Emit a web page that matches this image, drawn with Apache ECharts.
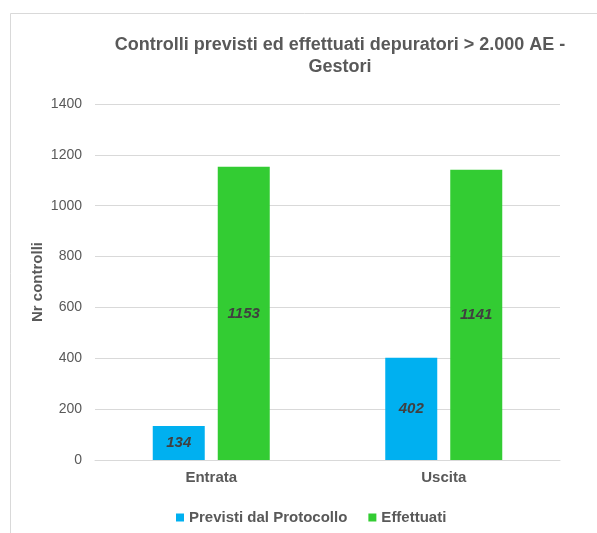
<!DOCTYPE html>
<html>
<head>
<meta charset="utf-8">
<script src="https://cdn.jsdelivr.net/npm/echarts@6/dist/echarts.min.js"></script>
<style>
html,body{margin:0;padding:0;background:#fff;}
#chart{width:597px;height:533px;}
</style>
</head>
<body>
<div id="chart"></div>
<script>
const titleText = "Controlli previsti ed effettuati depuratori > 2.000 AE -\nGestori";
const categories = ["Entrata", "Uscita"];
const seriesNames = ["Previsti dal Protocollo", "Effettuati"];
const previsti = [134, 402];
const effettuati = [1153, 1141];
const yAxisName = "Nr controlli";

const FONT = '"Liberation Sans", Arial, sans-serif';
const chart = echarts.init(document.getElementById('chart'), null, {renderer: 'canvas'});

const labelStyle = {
  show: true,
  position: 'inside',
  fontFamily: FONT,
  fontSize: 15,
  fontWeight: 'bold',
  fontStyle: 'italic',
  color: '#404040'
};

chart.setOption({
  animation: false,
  backgroundColor: '#ffffff',
  graphic: [{
    type: 'rect',
    left: 8, top: 11,
    shape: {width: 700, height: 600},
    style: {fill: 'none', stroke: '#D9D9D9', lineWidth: 1},
    silent: true, z: -10
  }],
  title: {
    text: titleText,
    left: 340,
    top: 34,
    textAlign: 'center',
    padding: 0,
    textStyle: {
      fontFamily: FONT, fontSize: 18, fontWeight: 'bold',
      color: '#595959', lineHeight: 22, align: 'center'
    }
  },
  legend: {
    left: 176,
    top: 510,
    padding: 0,
    itemWidth: 8,
    itemHeight: 8,
    itemGap: 21,
    icon: 'rect',
    textStyle: {fontFamily: FONT, fontSize: 15, fontWeight: 'bold', color: '#595959'},
    data: seriesNames
  },
  grid: {left: 95, right: 37, top: 104, bottom: 73, containLabel: false},
  xAxis: {
    type: 'category',
    data: categories,
    axisLine: {show: true, lineStyle: {color: '#D9D9D9', width: 1}},
    axisTick: {show: false},
    axisLabel: {fontFamily: FONT, fontSize: 15, fontWeight: 'bold', color: '#595959', margin: 10}
  },
  yAxis: {
    type: 'value',
    min: 0, max: 1400, interval: 200,
    name: yAxisName,
    nameLocation: 'middle',
    nameRotate: 90,
    nameGap: 50,
    nameMoveOverlap: false,
    nameTextStyle: {fontFamily: FONT, fontSize: 15, fontWeight: 'bold', color: '#595959'},
    axisLine: {show: false},
    axisTick: {show: false},
    splitLine: {lineStyle: {color: '#D9D9D9', width: 1}},
    axisLabel: {fontFamily: FONT, fontSize: 14, color: '#595959', margin: 13,
      formatter: function (v) { return String(v); }}
  },
  series: [
    {
      name: seriesNames[0], type: 'bar', data: previsti,
      barWidth: 52, barGap: '25%',
      itemStyle: {color: '#00B0F0'},
      label: labelStyle
    },
    {
      name: seriesNames[1], type: 'bar', data: effettuati,
      barWidth: 52, barGap: '25%',
      itemStyle: {color: '#33CC33'},
      label: labelStyle
    }
  ]
});
</script>
</body>
</html>
